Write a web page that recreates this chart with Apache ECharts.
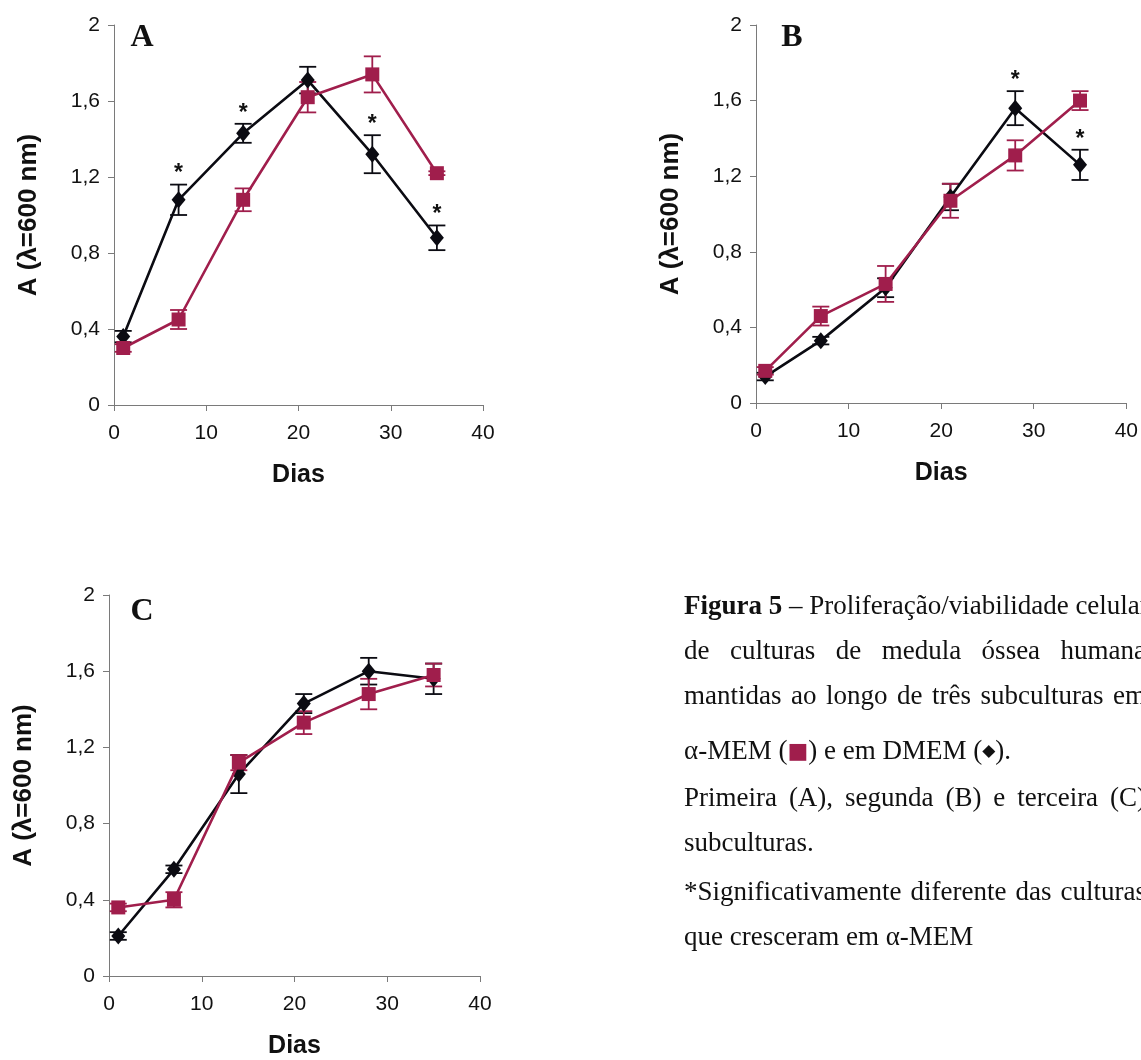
<!DOCTYPE html>
<html>
<head>
<meta charset="utf-8">
<script src="https://cdn.jsdelivr.net/npm/echarts@6/dist/echarts.min.js"></script>
<style>
html,body{margin:0;padding:0;background:#fff;}
#chart{width:1141px;height:1060px;}
</style>
</head>
<body>
<div id="chart"></div>
<script>
// ---------- data ----------
var days = [1, 7, 14, 21, 28, 35];
var yTicks = [0, 0.4, 0.8, 1.2, 1.6, 2];

var A_dmem     = [0.36, 1.08, 1.43, 1.71, 1.32, 0.88];
var A_dmemErr  = [0.03, 0.08, 0.05, 0.07, 0.10, 0.065];
var A_mem      = [0.30, 0.45, 1.08, 1.62, 1.74, 1.22];
var A_memErr   = [0.02, 0.05, 0.06, 0.08, 0.095, 0.01];
var A_sig      = [0, 1, 1, 0, 1, 1];

var B_dmem     = [0.14, 0.33, 0.61, 1.09, 1.56, 1.26];
var B_dmemErr  = [0.02, 0.02, 0.05, 0.07, 0.09, 0.08];
var B_mem      = [0.17, 0.46, 0.63, 1.07, 1.31, 1.60];
var B_memErr   = [0.02, 0.05, 0.095, 0.09, 0.08, 0.05];
var B_sig      = [0, 0, 0, 0, 1, 1];

var C_dmem     = [0.21, 0.56, 1.06, 1.43, 1.60, 1.56];
var C_dmemErr  = [0.02, 0.02, 0.10, 0.05, 0.07, 0.08];
var C_mem      = [0.36, 0.40, 1.12, 1.33, 1.48, 1.58];
var C_memErr   = [0.02, 0.04, 0.04, 0.06, 0.08, 0.06];
var C_sig      = [0, 0, 0, 0, 0, 0];

var panelLetters = ['A', 'B', 'C'];
var yName = 'A (\u03bb=600 nm)';
var xName = 'Dias';
var captionLines = [
  [{t:'Figura', b:true}, {t:'5', b:true}, {t:'\u2013 Proliferação/viabilidade'}, {t:'celular'}],
  'de culturas de medula óssea humana',
  'mantidas ao longo de três subculturas em',
  null,
  'Primeira (A), segunda (B) e terceira (C)',
  'subculturas.',
  '*Significativamente diferente das culturas',
  'que cresceram em \u03b1-MEM'
];

// ---------- styling ----------
var RED = '#a01e4c';
var BLACK = '#0b0b12';
var AXIS = '#7a7a7a';
var SANS = 'Liberation Sans, Arial, sans-serif';
var SERIF = 'Liberation Serif, Times New Roman, serif';

var grids = [
  {left: 114, top: 25, width: 369, height: 380},
  {left: 756, top: 25, width: 371, height: 378},
  {left: 109, top: 595, width: 371, height: 385}
];

function pairs(xs, ys) { return xs.map(function (x, i) { return [x, ys[i]]; }); }
function errData(xs, ys, es, sig) { return xs.map(function (x, i) { return [x, ys[i], es[i], sig ? sig[i] : 0]; }); }

function errSeries(idx, data, color) {
  return {
    type: 'custom', xAxisIndex: idx, yAxisIndex: idx, z: 3,
    data: data, silent: true,
    renderItem: function (params, api) {
      var x = api.value(0), y = api.value(1), e = api.value(2), s = api.value(3);
      var top = api.coord([x, y + e]);
      var bot = api.coord([x, y - e]);
      var hw = 8.5;
      var st = {stroke: color, lineWidth: 1.8};
      var ch = [
        {type: 'line', shape: {x1: top[0], y1: top[1], x2: bot[0], y2: bot[1]}, style: st},
        {type: 'line', shape: {x1: top[0] - hw, y1: top[1], x2: top[0] + hw, y2: top[1]}, style: st},
        {type: 'line', shape: {x1: bot[0] - hw, y1: bot[1], x2: bot[0] + hw, y2: bot[1]}, style: st}
      ];
      if (s) {
        ch.push({type: 'text', style: {text: '*', x: top[0], y: top[1] + 1, textAlign: 'center', textVerticalAlign: 'bottom',
          font: 'bold 23px ' + SANS, fill: '#111'}});
      }
      return {type: 'group', children: ch};
    }
  };
}

function lineSeries(idx, data, color, symbol, size, z) {
  return {
    type: 'line', xAxisIndex: idx, yAxisIndex: idx, data: data, z: z,
    symbol: symbol, symbolSize: size, showAllSymbol: true,
    lineStyle: {color: color, width: 2.6},
    itemStyle: {color: color, borderWidth: 0},
    animation: false
  };
}

var xAxes = [], yAxes = [], series = [];
var sets = [
  [A_dmem, A_dmemErr, A_mem, A_memErr, A_sig],
  [B_dmem, B_dmemErr, B_mem, B_memErr, B_sig],
  [C_dmem, C_dmemErr, C_mem, C_memErr, C_sig]
];
for (var i = 0; i < 3; i++) {
  xAxes.push({
    type: 'value', gridIndex: i, min: 0, max: 40, interval: 10,
    name: xName, nameLocation: 'middle', nameGap: 58,
    nameTextStyle: {fontFamily: SANS, fontWeight: 'bold', fontSize: 25, color: '#111'},
    axisLine: {show: true, lineStyle: {color: AXIS, width: 1}},
    axisTick: {show: true, length: 6, inside: false, lineStyle: {color: AXIS}},
    axisLabel: {fontFamily: SANS, fontSize: 21, color: '#111', margin: 18},
    splitLine: {show: false}
  });
  yAxes.push({
    type: 'value', gridIndex: i, min: 0, max: 2, interval: 0.4,
    name: yName, nameLocation: 'middle', nameGap: 72, nameRotate: 90,
    nameTextStyle: {fontFamily: SANS, fontWeight: 'bold', fontSize: 26, color: '#111'},
    axisLine: {show: true, lineStyle: {color: AXIS, width: 1}},
    axisTick: {show: true, length: 6, inside: false, lineStyle: {color: AXIS}},
    axisLabel: {fontFamily: SANS, fontSize: 21, color: '#111', margin: 14,
      formatter: function (v) { return String(Math.round(v * 10) / 10).replace('.', ','); }},
    splitLine: {show: false}
  });
  var s = sets[i];
  series.push(errSeries(i, errData(days, s[0], s[1], s[4]), BLACK));
  series.push(errSeries(i, errData(days, s[2], s[3], null), RED));
  series.push(lineSeries(i, pairs(days, s[0]), BLACK, 'diamond', [14, 17], 4));
  series.push(lineSeries(i, pairs(days, s[2]), RED, 'rect', 14, 5));
}

// ---------- caption (justified text) ----------
var cv = document.createElement('canvas').getContext('2d');
var CAP_SIZE = 27;
var CAP_X0 = 684, CAP_X1 = 1146;
var capY = [607, 652, 697, 752, 799, 844, 893, 938];
function fontStr(b) { return (b ? 'bold ' : '') + CAP_SIZE + 'px ' + SERIF; }
function measure(t, b) { cv.font = fontStr(b); return cv.measureText(t).width; }

var graphics = [];
// panel letters
var letterPos = [[142, 38], [792, 38], [142, 612]];
panelLetters.forEach(function (L, i) {
  graphics.push({type: 'text', x: letterPos[i][0], y: letterPos[i][1], z: 10,
    style: {text: L, font: 'bold 32px ' + SERIF, fill: '#111', textAlign: 'center', textVerticalAlign: 'middle'}});
});

function addJustified(words, y, justify) {
  var ws = words.map(function (w) { return {t: w.t, b: !!w.b, w: measure(w.t, w.b)}; });
  var total = ws.reduce(function (a, w) { return a + w.w; }, 0);
  var space = measure(' ', false);
  var gap = space;
  if (justify && ws.length > 1) {
    gap = Math.max(space, (CAP_X1 - CAP_X0 - total) / (ws.length - 1));
  }
  var x = CAP_X0;
  ws.forEach(function (w) {
    graphics.push({type: 'text', x: x, y: y, z: 10,
      style: {text: w.t, font: fontStr(w.b), fill: '#111', textAlign: 'left', textVerticalAlign: 'middle'}});
    x += w.w + gap;
  });
}
function splitWords(s) { return s.split(' ').map(function (t) { return {t: t}; }); }

var justifyFlags = [true, true, true, false, true, false, true, false];
captionLines.forEach(function (ln, i) {
  if (ln === null) return;
  var words;
  if (typeof ln === 'string') words = splitWords(ln);
  else {
    words = [];
    ln.forEach(function (p) { if (p.b) words.push(p); else words = words.concat(splitWords(p.t)); });
  }
  addJustified(words, capY[i], justifyFlags[i]);
});
// line 4 with coloured symbol
graphics.push({type: 'text', x: CAP_X0, y: capY[3], z: 10,
  style: {
    text: '{t|\u03b1-MEM (}{r|\u25a0}{t|) e em DMEM (}{k|\u25c6}{t|).}',
    textVerticalAlign: 'middle', textAlign: 'left',
    rich: {
      t: {font: CAP_SIZE + 'px ' + SERIF, fill: '#111'},
      r: {font: (CAP_SIZE - 5) + 'px DejaVu Sans', fill: RED},
      k: {font: (CAP_SIZE - 10) + 'px DejaVu Sans', fill: '#111'}
    }
  }});

var chart = echarts.init(document.getElementById('chart'), null, {renderer: 'canvas'});
chart.setOption({
  backgroundColor: '#ffffff',
  animation: false,
  grid: grids,
  xAxis: xAxes,
  yAxis: yAxes,
  series: series,
  graphic: graphics
});
</script>
</body>
</html>
